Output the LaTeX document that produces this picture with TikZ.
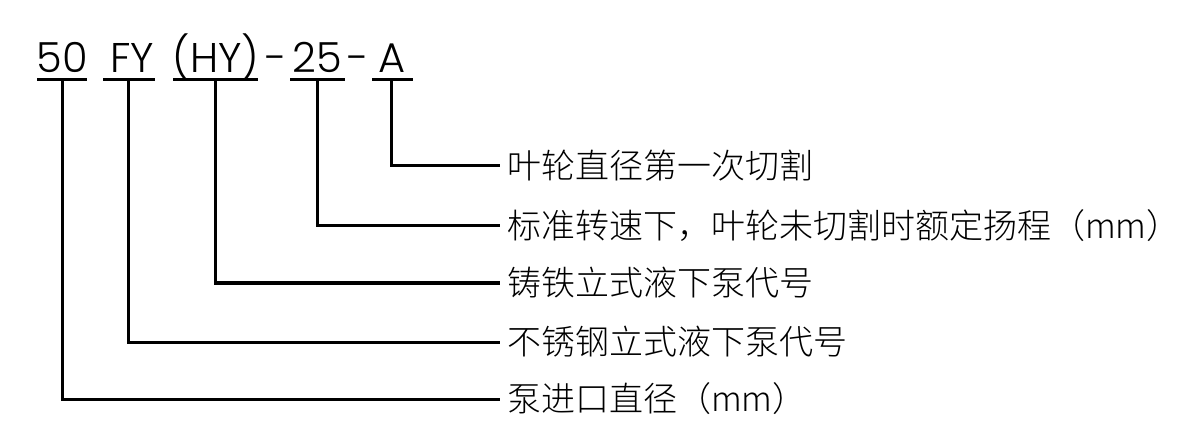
\documentclass[tikz,border=0pt]{standalone}
\usepackage{fontspec}
\IfFontExistsTF{Poppins Light}{\newfontfamily\codefont{Poppins Light}}{\newfontfamily\codefont{Poppins}}
\IfFontExistsTF{Noto Sans CJK SC Light}{\newfontfamily\cjk{Noto Sans CJK SC Light}}{\newfontfamily\cjk{Noto Sans CJK SC}}
\begin{document}
\begin{tikzpicture}[x=1pt,y=-1pt,
  code/.style={font=\codefont\fontsize{41.5}{50}\selectfont, inner sep=0pt, anchor=base},
  lab/.style={font=\cjk\fontsize{34}{40}\selectfont, inner sep=0pt, anchor=base west},
  uline/.style={line width=3pt},
  conn/.style={line width=3pt}]
\useasboundingbox (0,0) rectangle (1180,446);
% code parts
\node[code] (c50) at (62.5,73) {50};
\node[code] (cfy) at (132,73) {FY};
\node[code] (chy) at (216,73) {(HY)};
\node[code] (h1) at (276,73) {-};
\node[code] (c25) at (317.5,73) {25};
\node[code] (h2) at (358,73) {-};
\node[code] (ca) at (392.5,73) {A};
% underlines
\draw[uline] (37,80) -- (87,80);
\draw[uline] (103,80) -- (155,80);
\draw[uline] (173,80) -- (258,80);
\draw[uline] (290,80) -- (345,80);
\draw[uline] (372,80) -- (413,80);
% tap points
\coordinate (t50) at (62,80);
\coordinate (tfy) at (128,80);
\coordinate (thy) at (215,80);
\coordinate (t25) at (317,80);
\coordinate (ta) at (391,80);
% labels
\node[lab] (la) at (507,178.5) {叶轮直径第一次切割};
\node[lab] (l25) at (507,238.5) {标准转速下，叶轮未切割时额定扬程（mm）};
\node[lab] (lhy) at (507,295.5) {铸铁立式液下泵代号};
\node[lab] (lfy) at (507,354.5) {不锈钢立式液下泵代号};
\node[lab] (l50) at (507,411.5) {泵进口直径（mm）};
% connector ends
\coordinate (ea) at (500,166);
\coordinate (e25) at (500,226);
\coordinate (ehy) at (500,283);
\coordinate (efy) at (500,342);
\coordinate (e50) at (500,399);
\draw[conn] (ta) |- (ea);
\draw[conn] (t25) |- (e25);
\draw[conn] (thy) |- (ehy);
\draw[conn] (tfy) |- (efy);
\draw[conn] (t50) |- (e50);
\end{tikzpicture}
\end{document}
